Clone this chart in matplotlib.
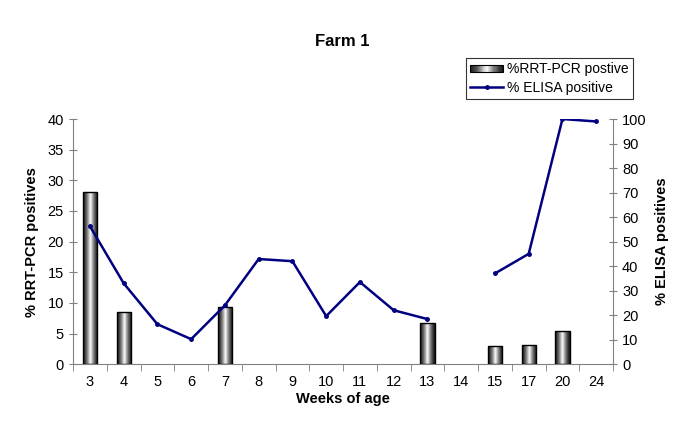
import numpy as np
import matplotlib
matplotlib.use('Agg')
import matplotlib.pyplot as plt
from matplotlib.patches import Rectangle
from matplotlib.lines import Line2D
from matplotlib.legend_handler import HandlerBase

plt.rcParams['font.family'] = ['Liberation Sans', 'DejaVu Sans']

weeks = ['3', '4', '5', '6', '7', '8', '9', '10', '11', '12', '13', '14', '15', '17', '20', '24']
pcr = [28.1, 8.5, 0, 0, 9.3, 0, 0, 0, 0, 0, 6.7, 0, 2.9, 3.1, 5.4, 0]
elisa = [56.3, 33, 16.3, 10.2, 24, 42.9, 42, 19.6, 33.5, 22, 18.4, np.nan, 37, 45, 100, 99]

x = np.arange(len(weeks))


def shade(t):
    # dark edges, white centre
    return 0.1 + 0.9 * (1 - np.abs(t)) ** 1.4


grad_img = np.tile(shade(np.linspace(-1, 1, 64)), (2, 1))


class GradientHandler(HandlerBase):
    def create_artists(self, legend, orig_handle, xdescent, ydescent,
                       width, height, fontsize, trans):
        arts = []
        n = 30
        for i in range(n):
            v = float(shade((i + 0.5) / n * 2 - 1))
            r = Rectangle((-xdescent + width * i / n, -ydescent + height * 0.15),
                          width / n, height * 0.7, facecolor=(v, v, v),
                          edgecolor='none', transform=trans)
            arts.append(r)
        border = Rectangle((-xdescent, -ydescent + height * 0.15), width, height * 0.7,
                           facecolor='none', edgecolor='black', lw=0.8, transform=trans)
        arts.append(border)
        return arts


fig = plt.figure(figsize=(6.85, 4.32), dpi=100)
ax = fig.add_axes([0.1066, 0.157, 0.7884, 0.5675])
ax2 = ax.twinx()

bars = ax.bar(x, pcr, width=0.42, facecolor='none', edgecolor='black', lw=1.0, zorder=3)
for b in bars:
    h = b.get_height()
    if h <= 0:
        b.set_visible(False)
        continue
    x0 = b.get_x()
    im = ax.imshow(grad_img, cmap='gray', vmin=0, vmax=1, aspect='auto',
                   extent=(x0, x0 + b.get_width(), 0, h), zorder=2, interpolation='bilinear')
    im.set_clip_path(b)

ax2.plot(x, elisa, color='#000080', lw=1.8, marker='o', ms=2.5)

ax.set_xlim(-0.5, len(weeks) - 0.5)
ax.set_ylim(0, 40)
ax2.set_ylim(0, 100)
ax.set_yticks(np.arange(0, 41, 5))
ax2.set_yticks(np.arange(0, 101, 10))
ax.set_xticks(x)
ax.set_xticklabels(weeks)
ax.set_xticks(np.arange(-0.5, len(weeks)), minor=True)
ax.tick_params(axis='x', which='major', length=0, labelsize=10.5, pad=8)
ax.tick_params(axis='x', which='minor', length=5, direction='out', color='#808080')
ax.tick_params(axis='y', length=6, direction='inout', labelsize=10.5, color='#808080')
ax2.tick_params(axis='y', length=6, direction='inout', labelsize=10.5, color='#808080')

for a in (ax, ax2):
    a.spines['top'].set_visible(False)
    for s in ('left', 'right', 'bottom'):
        a.spines[s].set_color('#808080')
ax.spines['right'].set_visible(False)
ax2.spines['left'].set_visible(False)
ax2.spines['bottom'].set_visible(False)

ax.set_ylabel('% RRT-PCR positives', fontsize=10.5, fontweight='bold', labelpad=6)
ax2.set_ylabel('% ELISA positives', fontsize=10.5, fontweight='bold', labelpad=6)
ax.set_xlabel('Weeks of age', fontsize=10.5, fontweight='bold', labelpad=2)
fig.text(0.5, 0.903, 'Farm 1', ha='center', va='center', fontsize=12, fontweight='bold')

h1 = Rectangle((0, 0), 1, 1)
h2 = Line2D([], [], color='#000080', lw=1.8, marker='o', ms=2.5)
leg = fig.legend([h1, h2], ['%RRT-PCR postive', '% ELISA positive'],
                 handler_map={h1: GradientHandler()},
                 loc='upper left', bbox_to_anchor=(0.68, 0.865), fontsize=10,
                 frameon=True, fancybox=False, edgecolor='black', handlelength=2.4,
                 handletextpad=0.3, borderpad=0.3, labelspacing=0.3,
                 borderaxespad=0)
leg.get_frame().set_linewidth(0.8)

fig.savefig('out.png', dpi=100)
